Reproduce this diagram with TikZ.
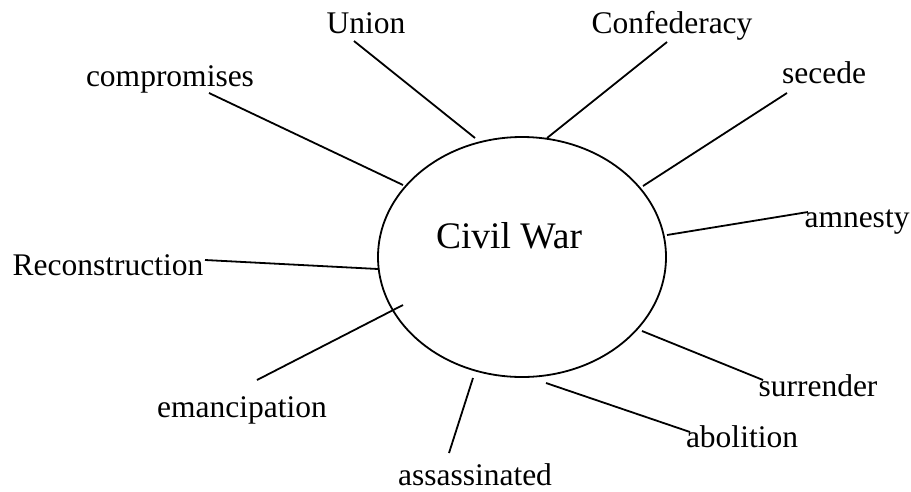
\documentclass[tikz,border=0pt]{standalone}
\usepackage{fontspec}
\setmainfont{Liberation Serif}
\usetikzlibrary{shapes.geometric}
\begin{document}
\begin{tikzpicture}[x=1pt,y=-1pt,
  lbl/.style={anchor=base,inner sep=0pt,font=\fontsize{31.5}{36}\selectfont},
  conn/.style={line width=1.8pt},
  bubble/.style={ellipse,draw,line width=1.8pt,minimum width=288pt,minimum height=240pt,inner sep=0pt}]
\useasboundingbox (0,0) rectangle (911,491);
\node[bubble] (cw) at (522,257) {};
\node[anchor=base,inner sep=0pt,font=\fontsize{37.5}{42}\selectfont] (cwt) at (509,248) {Civil War};
% labels
\node[lbl] (union) at (366,33) {Union};
\node[lbl] (comp) at (170,86) {compromises};
\node[lbl] (conf) at (672,33) {Confederacy};
\node[lbl] (sec) at (824,83) {secede};
\node[lbl] (amn) at (857,227) {amnesty};
\node[lbl] (rec) at (108,275) {Reconstruction};
\node[lbl] (eman) at (242,417) {emancipation};
\node[lbl] (ass) at (475,485) {assassinated};
\node[lbl] (sur) at (818,396) {surrender};
\node[lbl] (abo) at (742,447) {abolition};
% connector ends
\coordinate (u1) at (354,41);   \coordinate (u2) at (475,138);
\coordinate (c1) at (209,93);   \coordinate (c2) at (403,185);
\coordinate (f1) at (667,42);   \coordinate (f2) at (547,138);
\coordinate (s1) at (787,93);   \coordinate (s2) at (643,186);
\coordinate (a1) at (808,212);  \coordinate (a2) at (667,235);
\coordinate (r1) at (205,260);  \coordinate (r2) at (378,269);
\coordinate (e1) at (257,380);  \coordinate (e2) at (403,305);
\coordinate (x1) at (449,453);  \coordinate (x2) at (473,378);
\coordinate (v1) at (763,380);  \coordinate (v2) at (642,331);
\coordinate (b1) at (690,432);  \coordinate (b2) at (546,383);
\draw[conn] (u1) -- (u2);
\draw[conn] (c1) -- (c2);
\draw[conn] (f1) -- (f2);
\draw[conn] (s1) -- (s2);
\draw[conn] (a1) -- (a2);
\draw[conn] (r1) -- (r2);
\draw[conn] (e1) -- (e2);
\draw[conn] (x1) -- (x2);
\draw[conn] (v1) -- (v2);
\draw[conn] (b1) -- (b2);
\end{tikzpicture}
\end{document}
